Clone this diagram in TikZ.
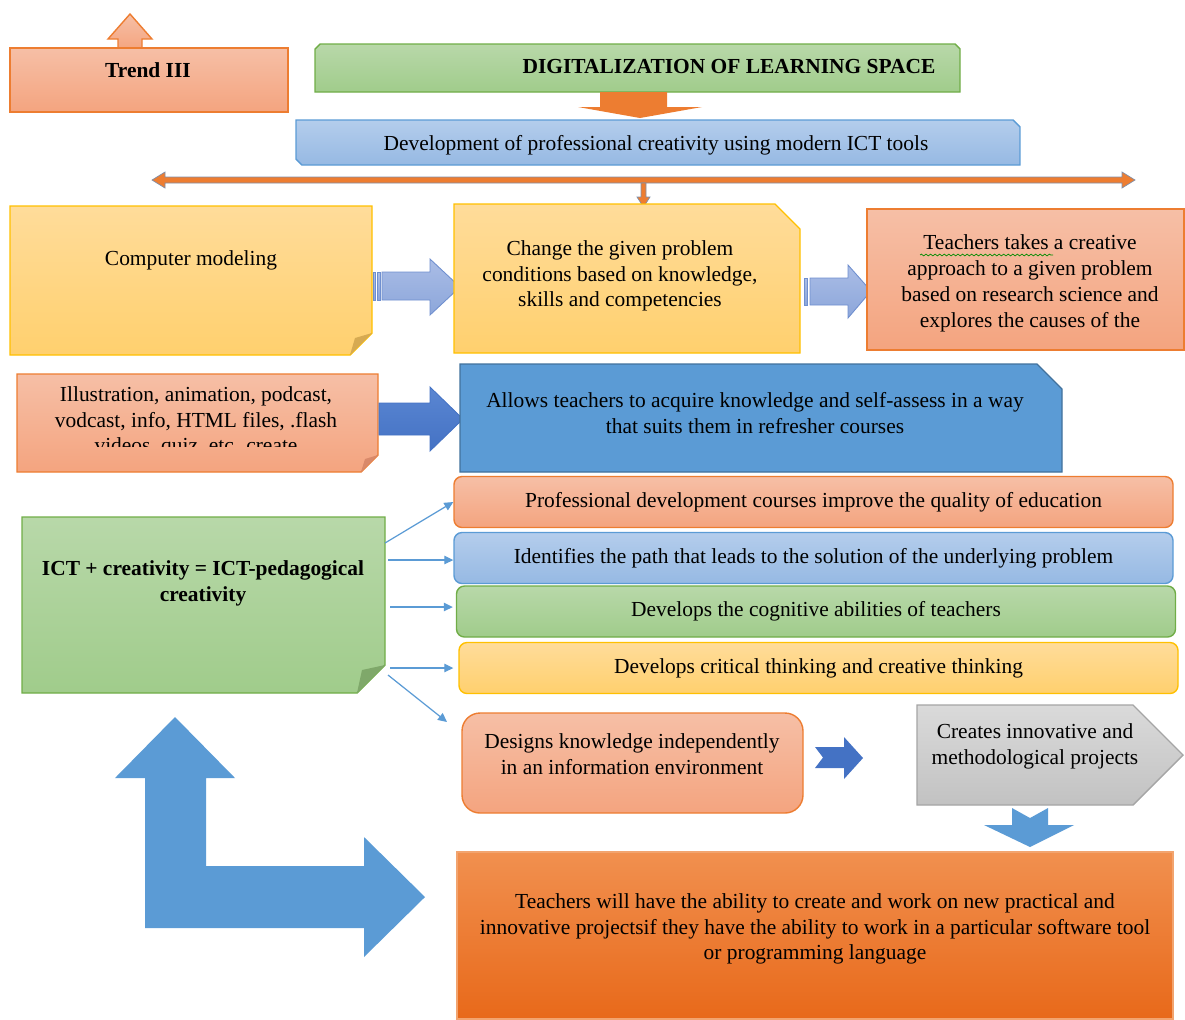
\documentclass[tikz,border=0pt]{standalone}
\usepackage{fontspec}
\setmainfont{Liberation Serif}
\usetikzlibrary{arrows.meta}
\usetikzlibrary{decorations.pathmorphing}
\newcommand*{\upx}{0.02cm}
\definecolor{salTop}{HTML}{F6BFA6}
\definecolor{salBot}{HTML}{F4A47F}
\definecolor{salLine}{HTML}{ED7D31}
\definecolor{salFold}{HTML}{D9896A}
\definecolor{yelTop}{HTML}{FFDC9A}
\definecolor{yelBot}{HTML}{FFD06E}
\definecolor{yelLine}{HTML}{FFC000}
\definecolor{yelFold}{HTML}{D6AA52}
\definecolor{grnTop}{HTML}{B8D8A9}
\definecolor{grnBot}{HTML}{A0CC8B}
\definecolor{grnLine}{HTML}{70AD47}
\definecolor{grnFold}{HTML}{7FA86A}
\definecolor{bluTop}{HTML}{B4CDEC}
\definecolor{bluBot}{HTML}{96B9E3}
\definecolor{bluLine}{HTML}{5B9BD5}
\definecolor{bluDark}{HTML}{41719C}
\definecolor{royal}{HTML}{4472C4}
\definecolor{royalTop}{HTML}{5A86D2}
\definecolor{lilaTop}{HTML}{AABDE6}
\definecolor{lilaBot}{HTML}{8CA6DA}
\definecolor{lilaLine}{HTML}{6F8FCF}
\definecolor{orgArrow}{HTML}{ED7D31}
\definecolor{orgTop}{HTML}{F1904F}
\definecolor{orgBot}{HTML}{E8691A}
\definecolor{steel}{HTML}{7F8FA9}
\definecolor{gryTop}{HTML}{DADADA}
\definecolor{gryBot}{HTML}{C2C2C2}
\definecolor{gryLine}{HTML}{A5A5A5}
\tikzset{
    salbox/.style  = {top color=salTop, bottom color=salBot, draw=salLine, line width=0.8pt},
    yelbox/.style  = {top color=yelTop, bottom color=yelBot, draw=yelLine, line width=0.8pt},
    grnbox/.style  = {top color=grnTop, bottom color=grnBot, draw=grnLine, line width=0.8pt},
    blubox/.style  = {top color=bluTop, bottom color=bluBot, draw=bluLine, line width=0.8pt},
    txt/.style     = {align=center, inner sep=0pt, font=\fontsize{12.2}{14.7}\selectfont},
    title/.style   = {txt, font=\fontsize{12.2}{14.7}\selectfont\bfseries},
    bar/.style     = {txt, rounded corners=0.16cm, minimum width=719*\upx, minimum height=51*\upx},
    lilaarrow/.style = {top color=lilaTop, bottom color=lilaBot, draw=lilaLine, line width=0.5pt},
    thinarrow/.style = {draw=bluLine, line width=0.7pt, -{Triangle[length=1.8mm,width=1.7mm]}},
}

\begin{document}
\begin{tikzpicture}[x=\upx, y=-\upx]
    \useasboundingbox (0,0) rectangle (1185,1019);

    \shadedraw[salbox] (118,50) -- (118,39) -- (108,39) -- (130,14) -- (152,39) -- (142,39) -- (142,50) -- cycle;
    \shadedraw[salbox] (10,48) rectangle (288,112);
    \node[title] (trend) at (148,70) {Trend III};

    \shadedraw[grnbox] (315,92) -- (315,49) -- (320,44) -- (955,44) -- (960,49) -- (960,92) -- cycle;
    \node[title] (digital) at (729,66) {DIGITALIZATION OF LEARNING SPACE};
    \fill[orgArrow] (600,92) -- (667,92) -- (667,107) -- (702,107) -- (640,118) -- (578,107) -- (600,107) -- cycle;

    \shadedraw[blubox] (296,120) -- (1013,120) -- (1020,127) -- (1020,165) -- (302,165) -- (296,159) -- cycle;
    \node[txt] (devel) at (656,145) {Development of professional creativity using modern ICT tools};

    \filldraw[fill=orgArrow, draw=steel, line width=0.4pt] (152,180) -- (165,172) -- (165,177) -- (1122,177) -- (1122,172) -- (1135,180)
        -- (1122,188) -- (1122,183) -- (165,183) -- (165,188) -- cycle;
    \filldraw[fill=orgArrow, draw=steel, line width=0.4pt] (641,183) -- (646,183) -- (646,197) -- (650,197) -- (643.5,207) -- (637,197) -- (641,197) -- cycle;

    % second row
    \shadedraw[yelbox] (10,206) -- (372,206) -- (372,333) -- (350,355) -- (10,355) -- cycle;
    \fill[yelFold] (372,333) -- (350,355) -- (355,338) -- cycle;
    \node[txt] (model) at (191,260) {Computer modeling};

    \shadedraw[lilaarrow] (382,272) -- (430,272) -- (430,259) -- (460,287) -- (430,315) -- (430,300) -- (382,300) -- cycle;
    \shadedraw[lilaarrow] (373,272) rectangle (375,300);
    \shadedraw[lilaarrow] (377,272) rectangle (380,300);

    \shadedraw[yelbox] (454,204) -- (775,204) -- (800,229) -- (800,353) -- (454,353) -- cycle;
    \node[txt] (change) at (620,276) {Change the given problem\\conditions based on knowledge,\\skills and competencies};

    \shadedraw[lilaarrow] (810,278) -- (848,278) -- (848,265) -- (871,291) -- (848,318) -- (848,305) -- (810,305) -- cycle;
    \shadedraw[lilaarrow] (804,278) rectangle (807,305);

    \shadedraw[salbox] (867,209) rectangle (1184,350);
    \node[txt] (creative) at (1030,283.5) {Teachers takes a creative\\approach to a given problem\\based on research science and\\explores the causes of the};
    \draw[decorate, decoration={snake, amplitude=0.5pt, segment length=2.6pt}, draw=green!55!black, line width=0.4pt] (920,255) -- (1053,255);

    % third row
    \shadedraw[salbox] (17,374) -- (378,374) -- (378,455) -- (361,472) -- (17,472) -- cycle;
    \fill[salFold] (378,455) -- (361,472) -- (365,459) -- cycle;
    \begin{scope}
        \clip (17,374) rectangle (378,446);
        \node[txt] (media) at (196,422) {Illustration, animation, podcast,\\vodcast, info, HTML files, .flash\\videos, quiz, etc. create};
    \end{scope}

    \shadedraw[top color=royalTop, bottom color=royal, draw=royal, line width=0.5pt] (379,403) -- (430,403) -- (430,387) -- (463,419)
        -- (430,451) -- (430,435) -- (379,435) -- cycle;

    \filldraw[fill=bluLine, draw=bluDark, line width=0.8pt] (460,364) -- (1037,364) -- (1062,389) -- (1062,472) -- (460,472) -- cycle;
    \node[txt] (allows) at (755,413) {Allows teachers to acquire knowledge and self-assess in a way\\that suits them in refresher courses};

    % ICT block
    \shadedraw[grnbox] (22,517) -- (385,517) -- (385,665) -- (357,693) -- (22,693) -- cycle;
    \fill[grnFold] (385,665) -- (357,693) -- (362,670) -- cycle;
    \node[title] (ict) at (203,583) {ICT + creativity = ICT-pedagogical\\creativity};

    \node[bar, salbox] (quality) at (813.5,502) {Professional development courses improve the quality of education};
    \node[bar, blubox] (path) at (813.5,558) {Identifies the path that leads to the solution of the underlying problem};
    \node[bar, grnbox] (cognitive) at (816,611.5) {Develops the cognitive abilities of teachers};
    \node[bar, yelbox] (critical) at (818.5,668) {Develops critical thinking and creative thinking};

    \node[salbox, rounded corners=0.36cm, minimum width=341*\upx, minimum height=100*\upx] (design) at (632.5,763) {};
    \node[txt] (designtxt) at (632,754) {Designs knowledge independently\\in an information environment};

    \coordinate (s1) at (385,543);
    \coordinate (s2) at (388,560);
    \coordinate (s3) at (390,607);
    \coordinate (s4) at (390,668);
    \coordinate (s5) at (388,675);
    \coordinate (e5) at (447,722);
    \draw[thinarrow] (s1) -- (quality.west);
    \draw[thinarrow] (s2) -- (s2 -| path.west);
    \draw[thinarrow] (s3) -- ([xshift=-3*\upx]s3 -| cognitive.west);
    \draw[thinarrow] (s4) -- ([xshift=-5*\upx]s4 -| critical.west);
    \draw[thinarrow] (s5) -- (e5);

    \fill[royal] (815,747) -- (844,747) -- (844,737) -- (863,758) -- (844,779) -- (844,768) -- (815,768) -- (823,757.5) -- cycle;

    \shadedraw[top color=gryTop, bottom color=gryBot, draw=gryLine, line width=0.8pt] (917,705) -- (1133,705) -- (1183,755) -- (1133,805) -- (917,805) -- cycle;
    \node[txt] (projects) at (1035,746) {Creates innovative and\\methodological projects};

    \fill[bluLine] (1012,808) -- (1030,818) -- (1048,808) -- (1048,825) -- (1074,825) -- (1030,847) -- (984,825) -- (1012,825) -- cycle;

    % bottom
    \shadedraw[top color=orgTop, bottom color=orgBot, draw=salLine!70, line width=0.8pt] (457,852) rectangle (1173,1019);
    \node[txt] (ability) at (815,929) {Teachers will have the ability to create and work on new practical and\\innovative projectsif they have the ability to work in a particular software tool\\or programming language};

    \fill[bluLine] (175,717) -- (235,778) -- (206,778) -- (206,866) -- (364,866) -- (364,837) -- (425,897) -- (364,957) -- (364,928)
        -- (145,928) -- (145,778) -- (115,778) -- cycle;
\end{tikzpicture}
\end{document}
